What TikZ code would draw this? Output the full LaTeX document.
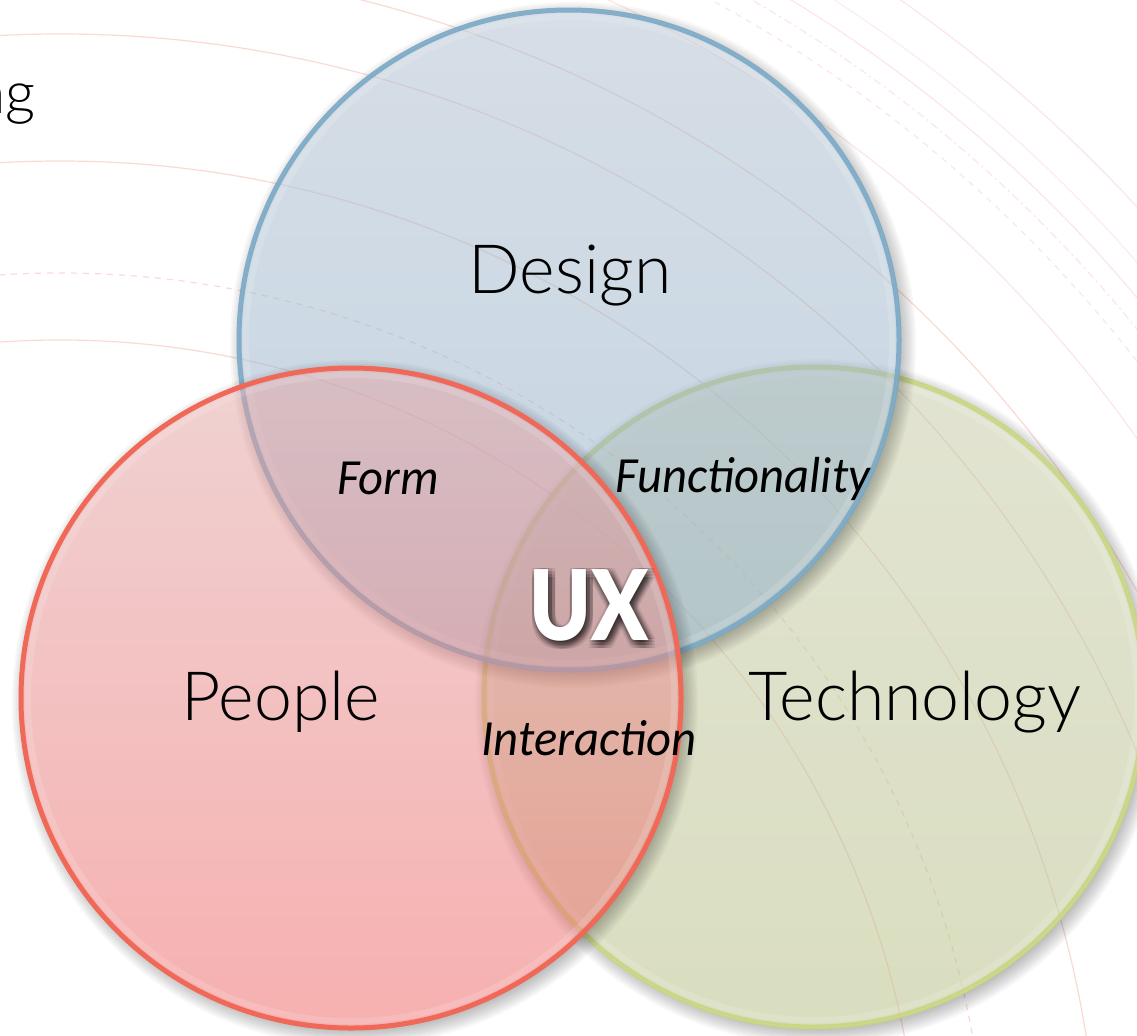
\documentclass[tikz,border=0pt]{standalone}
\usepackage{fontspec}
\usepackage{graphicx}
\setmainfont{Carlito}
\newfontfamily\lightfont{Lato Light}
\newfontfamily\heavyfont{Lato Black}
\definecolor{arcpink}{RGB}{246,188,180}
\definecolor{dstroke}{RGB}{122,168,197}
\definecolor{pstroke}{RGB}{240,104,88}
\definecolor{tstroke}{RGB}{200,214,130}
\definecolor{dtop}{RGB}{175,190,206}
\definecolor{dbot}{RGB}{137,171,200}
\definecolor{ptop}{RGB}{226,166,166}
\definecolor{pbot}{RGB}{240,98,98}
\definecolor{ttop}{RGB}{198,202,166}
\definecolor{tbot}{RGB}{182,190,130}
\newcommand{\ringshadow}[1]{%
  \begin{scope}[even odd rule]
    \clip (-50,1100) rectangle (1200,-50) (#1) circle (331);
    \foreach \i in {1,...,9}
      \draw[black, opacity=0.03, line width=1.5*\i pt] ([shift={(4,5)}]#1) circle ({325+\i});
  \end{scope}}
\begin{document}
\begin{tikzpicture}[x=0.75pt,y=-0.75pt,
  arcline/.style={arcpink, line width=0.9pt, opacity=0.55},
  farline/.style={arcpink, line width=0.9pt, opacity=0.35},
  bigword/.style={font=\lightfont\fontsize{51}{56}\selectfont, anchor=base, inner sep=0pt},
  itword/.style={font=\itshape\fontsize{38}{42}\selectfont, anchor=base, inner sep=0pt},
  uxword/.style={font=\heavyfont\fontsize{73}{76}\selectfont, anchor=base, inner sep=0pt}]
\useasboundingbox (0,0) rectangle (1137,1035);
\clip (0,0) rectangle (1137,1035);
\fill[white] (0,0) rectangle (1137,1035);
% background arcs
\coordinate (O) at (60,1200);
\foreach \r in {860,1039,1166,1237}
  \draw[arcline] (O) circle (\r);
\draw[arcline, dash pattern=on 4.5pt off 4.5pt] (O) circle (927);
\foreach \r in {1319,1405,1465}
  \draw[farline] (O) circle (\r);
\draw[farline, dash pattern=on 4.5pt off 4.5pt] (O) circle (1365);
\draw[farline, dash pattern=on 6pt off 3pt on 1.5pt off 3pt] (O) circle (1385);
\draw[farline, opacity=0.25] (O) circle (1428);
% centres
\coordinate (T) at (814,697);
\coordinate (D) at (569,340);
\coordinate (P) at (351,698);
% Technology
\ringshadow{T}
\shade[top color=ttop, bottom color=tbot, fill opacity=0.5] (T) circle (330);
\draw[white, opacity=0.14, line width=4.5pt] (T) circle (323);
\draw[tstroke, line width=3.75pt, opacity=0.9] (T) circle (330);
% Design
\ringshadow{D}
\shade[top color=dtop, bottom color=dbot, fill opacity=0.5] (D) circle (330);
\draw[white, opacity=0.14, line width=4.5pt] (D) circle (323);
\draw[dstroke, line width=3.75pt, opacity=0.9] (D) circle (330);
% People
\ringshadow{P}
\shade[top color=ptop, bottom color=pbot, fill opacity=0.5] (P) circle (330);
\draw[white, opacity=0.14, line width=4.5pt] (P) circle (323);
\draw[pstroke, line width=3.75pt] (P) circle (330);
% labels
\node[bigword] (design) at (570,293) {Design};
\node[bigword] (people) at (281,720) {People};
\node[bigword] (tech) at (915,720) {Technology};
\node[itword] (form) at (388,494) {\scalebox{0.96}[1]{Form}};
\node[itword] (func) at (743,492) {\scalebox{0.96}[1]{Functionality}};
\node[itword] (inter) at (589,755) {\scalebox{0.96}[1]{Interaction}};
\node[font=\lightfont\fontsize{44}{48}\selectfont, anchor=base east, inner sep=0pt] (ng) at (36,113) {ng};
% UX with soft shadow
\foreach \dx in {-2,1,4,7}
  \foreach \dy in {-1,2,5,8}
    \node[uxword, black, opacity=0.085] (uxs\dx\dy) at (589+\dx,640+\dy) {\scalebox{0.85}[1]{UX}};
\node[uxword, white] (ux) at (589,640) {\scalebox{0.85}[1]{UX}};
\end{tikzpicture}
\end{document}
